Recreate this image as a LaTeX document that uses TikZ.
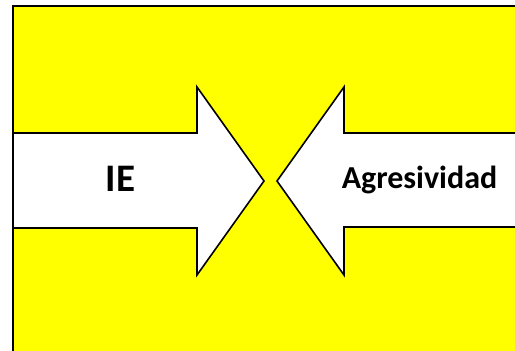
\documentclass[tikz,border=0pt]{standalone}
\usepackage{fontspec}
\setmainfont{Carlito}
\definecolor{bgyellow}{RGB}{255,255,0}
\tikzset{
  arrowshape/.style={draw=black, fill=white, line width=1.6pt, line join=miter},
  bigtext/.style={font=\bfseries\fontsize{39}{39}\selectfont, anchor=base, inner sep=0pt},
  midtext/.style={font=\bfseries\fontsize{32}{32}\selectfont, anchor=base, inner sep=0pt}
}
\begin{document}
\begin{tikzpicture}[x=1pt,y=1pt]
\useasboundingbox (0,0) rectangle (515,351);
% yellow background
\fill[bgyellow] (13,0) rectangle (515,345);
\draw[line width=1.6pt] (13,0) -- (13,345) -- (515,345);
% left arrow
\draw[arrowshape] (13,218) -- (197,218) -- (197,264) -- (264,170) -- (197,76) -- (197,123) -- (13,123) -- cycle;
% right arrow
\draw[arrowshape] (516,218) -- (344,218) -- (344,264) -- (277,170) -- (344,76) -- (344,124) -- (516,124);
% texts
\node[bigtext] (ie) at (120.5,159) {IE};
\node[midtext] (ag) at (419.5,162) {Agresividad};
\end{tikzpicture}
\end{document}
